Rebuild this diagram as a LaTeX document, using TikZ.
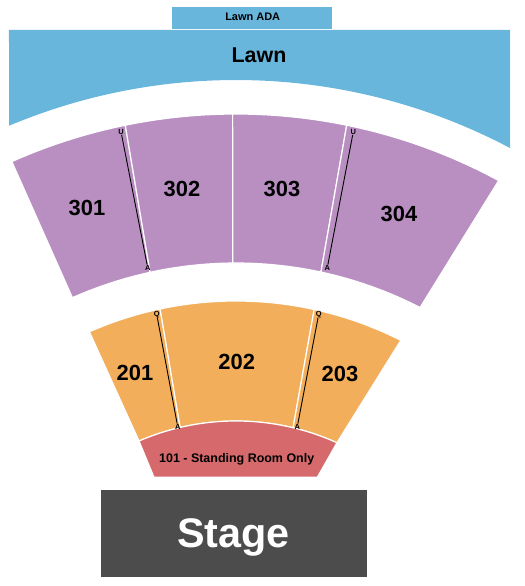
\documentclass[tikz,border=0pt]{standalone}
\usepackage{fontspec}
\setmainfont{Liberation Sans}
\definecolor{lawnblue}{HTML}{69B6DD}
\definecolor{purplesec}{HTML}{B98FC2}
\definecolor{orangesec}{HTML}{F2AE5B}
\definecolor{redsec}{HTML}{D5696C}
\definecolor{stagegray}{HTML}{4C4C4C}

\begin{document}
\begin{tikzpicture}[x=1bp, y=1bp,
    sec/.style = {draw=white, line width=1.2bp},
    num/.style = {font=\bfseries\fontsize{22}{22}\selectfont, text depth=0pt},
    rowlbl/.style = {font=\bfseries\fontsize{7.5}{7.5}\selectfont, inner sep=0.4bp, text depth=0pt},
    rowline/.style = {draw=black, line width=0.9bp}]
        \useasboundingbox (-236,80) rectangle (289,666);

        % lawn
        \fill[lawnblue] (-63.7,637) rectangle (96.3,659.3);
        \node[font=\bfseries\fontsize{11}{11}\selectfont] (ada) at (16.7,649.3) {Lawn ADA};
        \fill[lawnblue] (-227,636) -- (274,636) -- (62.12:586)
            arc[start angle=62.12, end angle=112.79, radius=586] -- cycle;
        \node[font=\bfseries\fontsize{21.5}{21.5}\selectfont] (lawn) at (23,610.3) {Lawn};

        % 300 level
        \filldraw[sec, fill=purplesec] (113.96:552) arc[start angle=113.96, end angle=101.57, radius=552]
            -- (102.31:403) arc[start angle=102.31, end angle=113.95, radius=403] -- cycle;
        \filldraw[sec, fill=purplesec] (101.57:552) arc[start angle=101.57, end angle=90.35, radius=552]
            -- (90.45:403) arc[start angle=90.45, end angle=102.31, radius=403] -- cycle;
        \filldraw[sec, fill=purplesec] (90.35:552) arc[start angle=90.35, end angle=78.43, radius=552]
            -- (77.83:403) arc[start angle=77.83, end angle=90.45, radius=403] -- cycle;
        \filldraw[sec, fill=purplesec] (78.43:552) arc[start angle=78.43, end angle=61.58, radius=552]
            -- (62.82:403) arc[start angle=62.82, end angle=77.83, radius=403] -- cycle;
        \node[num] (n301) at (-149,458) {301};
        \node[num] (n302) at (-54,477) {302};
        \node[num] (n303) at (46,477) {303};
        \node[num] (n304) at (163,452) {304};

        % 200 level
        \filldraw[sec, fill=orangesec] (113.69:365) arc[start angle=113.69, end angle=102.0, radius=365]
            -- (103.17:245) arc[start angle=103.17, end angle=113.32, radius=245] -- cycle;
        \filldraw[sec, fill=orangesec] (102.0:365) arc[start angle=102.0, end angle=77.63, radius=365]
            -- (76.53:245) arc[start angle=76.53, end angle=103.17, radius=245] -- cycle;
        \filldraw[sec, fill=orangesec] (77.63:365) arc[start angle=77.63, end angle=63.16, radius=365]
            -- (65.67:245) arc[start angle=65.67, end angle=76.53, radius=245] -- cycle;
        \node[num] (n201) at (-101,292.7) {201};
        \node[num] (n202) at (0.7,304.3) {202};
        \node[num] (n203) at (104,292) {203};

        % floor
        \filldraw[sec, fill=redsec] (113.32:245) arc[start angle=113.32, end angle=65.67, radius=245]
            -- (81.3,188.7) -- (-82,188.7) -- cycle;
        \node[font=\bfseries\fontsize{12.5}{12.5}\selectfont, text depth=0pt] (n101) at (0.7,207.7) {101 - Standing Room Only};

        % row letters
        \node[rowlbl] (u301) at (-115,534.3) {U};
        \node[rowlbl] (a301) at (-88.3,398.3) {A};
        \node[rowlbl] (u304) at (117.3,534.3) {U};
        \node[rowlbl] (a304) at (91.3,398.3) {A};
        \node[rowlbl] (q201) at (-79.3,351.7) {Q};
        \node[rowlbl] (a201) at (-58.3,239.3) {A};
        \node[rowlbl] (q203) at (82.7,351.7) {Q};
        \node[rowlbl] (a203) at (61.3,239.3) {A};
        \draw[rowline] (u301) -- (a301);
        \draw[rowline] (u304) -- (a304);
        \draw[rowline] (q201) -- (a201);
        \draw[rowline] (q203) -- (a203);

        % stage
        \fill[stagegray] (-135,89.3) rectangle (130.7,176);
        \node[font=\bfseries\fontsize{41.5}{41.5}\selectfont, text=white, text depth=0pt] (stage) at (-2.7,133) {Stage};
    \end{tikzpicture}
\end{document}
